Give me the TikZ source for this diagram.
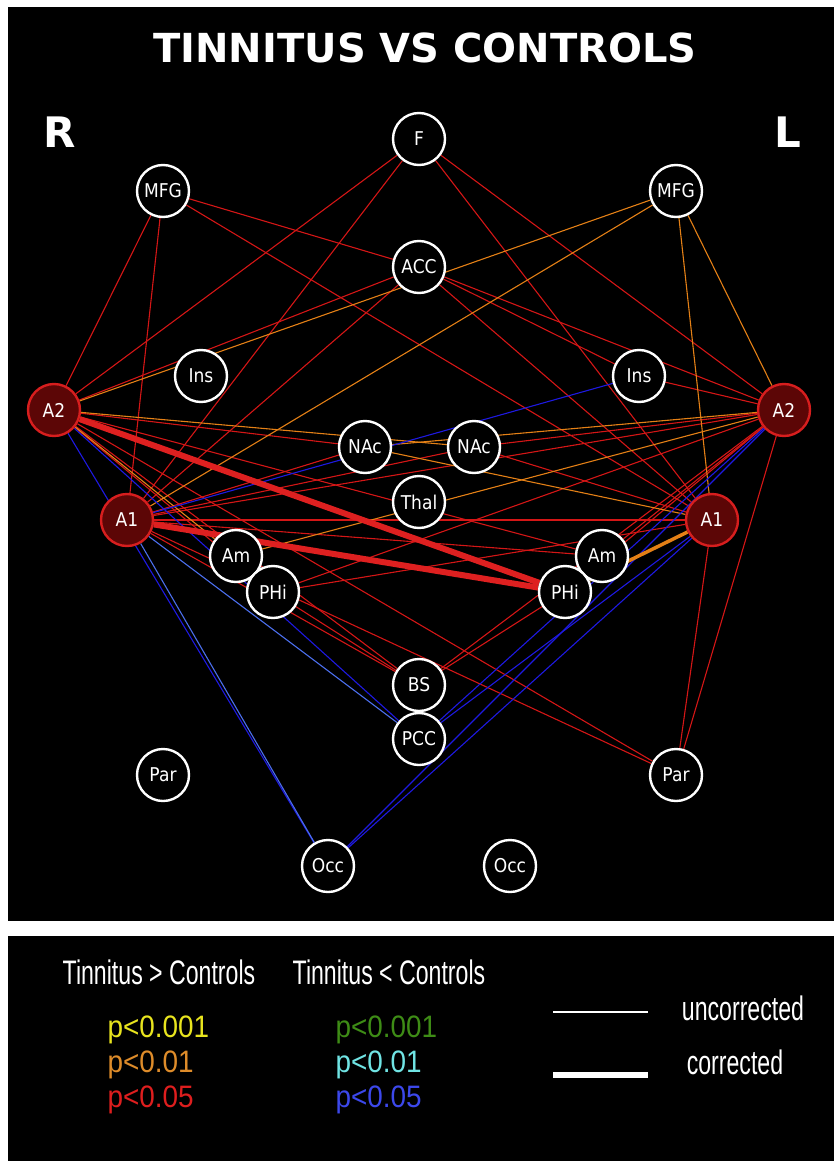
\documentclass[tikz,border=0pt]{standalone}
\usepackage{fontspec}
\setmainfont{DejaVu Sans}
\newfontfamily\nodefont[FakeStretch=0.9]{DejaVu Sans}
\newfontfamily\titlefont{DejaVu Sans Bold}
\newfontfamily\legA[FakeStretch=0.68]{Liberation Sans}
\newfontfamily\legB[FakeStretch=0.9]{Liberation Sans}
\definecolor{linered}{RGB}{212,22,22}
\definecolor{thickred}{RGB}{222,32,32}
\definecolor{lineorange}{RGB}{228,128,22}
\definecolor{lineblue}{RGB}{30,25,225}
\definecolor{lightblue}{RGB}{75,110,235}
\definecolor{nodered}{RGB}{215,30,30}
\definecolor{nodedark}{RGB}{92,6,6}
\definecolor{legyellow}{RGB}{232,228,30}
\definecolor{legorange}{RGB}{222,140,42}
\definecolor{legred}{RGB}{222,30,30}
\definecolor{leggreen}{RGB}{62,140,22}
\definecolor{legcyan}{RGB}{112,228,228}
\definecolor{legblue}{RGB}{60,72,235}
\pgfdeclarelayer{back}
\pgfdeclarelayer{edges}
\pgfsetlayers{back,edges,main}
\tikzset{
  brain/.style={circle, draw=white, fill=black, line width=2.4pt, minimum size=52pt, inner sep=0pt, text=white, font=\nodefont\fontsize{19}{19}\selectfont},
  audi/.style={brain, draw=nodered, fill=nodedark},
  er/.style={draw=linered, line width=1.1pt},
  eo/.style={draw=lineorange, line width=1.1pt},
  eb/.style={draw=lineblue, line width=1.1pt},
  elb/.style={draw=lightblue, line width=1.1pt},
  ethick/.style={draw=thickred, line width=6pt},
  eothick/.style={draw=lineorange, line width=3.5pt},
  side/.style={text=white, font=\titlefont\fontsize{42}{42}\selectfont},
  head/.style={text=white, font=\legA\fontsize{34}{34}\selectfont},
  pval/.style={font=\legB\fontsize{31}{31}\selectfont, anchor=west}
}
\begin{document}
\begin{tikzpicture}[x=1pt,y=-1pt]
\useasboundingbox (0,0) rectangle (834,1161);
\begin{pgfonlayer}{back}
\fill[white] (0,0) rectangle (834,1161);
\fill[black] (8,7) rectangle (834,921);
\fill[black] (8,936) rectangle (834,1161);
\end{pgfonlayer}

% title and sides
\node[side, font=\titlefont\fontsize{40}{40}\selectfont] (title) at (425,48) {TINNITUS VS CONTROLS};
\node[side] (Rlab) at (60,132) {R};
\node[side] (Llab) at (788,132) {L};

% nodes
\node[brain] (F) at (419,139) {F};
\node[brain] (MFGr) at (163,191) {MFG};
\node[brain] (MFGl) at (676,191) {MFG};
\node[brain] (ACC) at (419,267) {ACC};
\node[brain] (InsR) at (201,376) {Ins};
\node[brain] (InsL) at (639,376) {Ins};
\node[audi] (A2r) at (54,410) {A2};
\node[audi] (A2l) at (784,410) {A2};
\node[brain] (NAcR) at (365,447) {NAc};
\node[brain] (NAcL) at (474,447) {NAc};
\node[brain] (Thal) at (419,502) {Thal};
\node[audi] (A1r) at (127,520) {A1};
\node[audi] (A1l) at (712,520) {A1};
\node[brain] (AmR) at (236,556) {Am};
\node[brain] (AmL) at (602,556) {Am};
\node[brain] (PHiR) at (273,592) {PHi};
\node[brain] (PHiL) at (565,592) {PHi};
\node[brain] (BS) at (419,685) {BS};
\node[brain] (PCC) at (419,739) {PCC};
\node[brain] (ParR) at (163,775) {Par};
\node[brain] (ParL) at (676,775) {Par};
\node[brain] (OccR) at (328,866) {Occ};
\node[brain] (OccL) at (510,866) {Occ};

\begin{pgfonlayer}{edges}
% red, uncorrected
\foreach \a/\b in {A2r/MFGr, A2r/F, A2r/ACC, A2r/AmL, A2r/PHiR, A2r/BS, A2r/ParL, A2r/NAcR,
  A1r/MFGr, A1r/F, A1r/ACC, A1r/A2l, A1r/NAcL, A1r/AmL, A1r/A1l, A1r/BS, A1r/ParL, A1r/NAcR,
  MFGr/ACC, MFGr/A1l, F/A2l, F/A1l, ACC/A2l, ACC/InsL, ACC/A1l, InsL/A2l, NAcL/A2l, NAcL/A1l,
  PHiR/A2l, PHiR/A1l, PHiR/BS, AmL/A2l, PHiL/A2l, BS/A2l, BS/PHiL, A1l/ParL, A2l/ParL}
  \draw[er] (\a) -- (\b);
% orange, uncorrected
\foreach \a/\b in {A2r/MFGl, A1r/MFGl, MFGl/A2l, MFGl/A1l, A2r/AmR, A2r/NAcL, NAcR/A2l, NAcR/A1l, AmR/A2l}
  \draw[eo] (\a) -- (\b);
% blue
\foreach \a/\b in {A2r/PCC, A2r/OccR, A1r/InsL, A2l/PCC, A2l/OccR, A1l/PCC, A1l/OccR}
  \draw[eb] (\a) -- (\b);
\foreach \a/\b in {A1r/PCC, A1r/OccR}
  \draw[elb] (\a) -- (\b);
% corrected
\draw[ethick] (A2r) -- (PHiL);
\draw[ethick] (A1r) -- (PHiL);
\draw[eothick] (A1l) -- (PHiL);
\end{pgfonlayer}

% legend
\node[head] (hgt) at (159,972) {Tinnitus > Controls};
\node[head] (hlt) at (389,972) {Tinnitus < Controls};
\node[pval, text=legyellow] (py1) at (104,1030) {p<0.001};
\node[pval, text=legorange] (py2) at (104,1065) {p<0.01};
\node[pval, text=legred] (py3) at (104,1100) {p<0.05};
\node[pval, text=leggreen] (pg1) at (332,1030) {p<0.001};
\node[pval, text=legcyan] (pg2) at (332,1065) {p<0.01};
\node[pval, text=legblue] (pg3) at (332,1100) {p<0.05};
\coordinate (u1) at (553,1012);
\coordinate (u2) at (648,1012);
\coordinate (c1) at (553,1075);
\coordinate (c2) at (648,1075);
\draw[white, line width=1.6pt] (u1) -- (u2);
\draw[white, line width=6pt] (c1) -- (c2);
\node[head] (unc) at (743,1008) {uncorrected};
\node[head] (cor) at (735,1062) {corrected};
\end{tikzpicture}
\end{document}
